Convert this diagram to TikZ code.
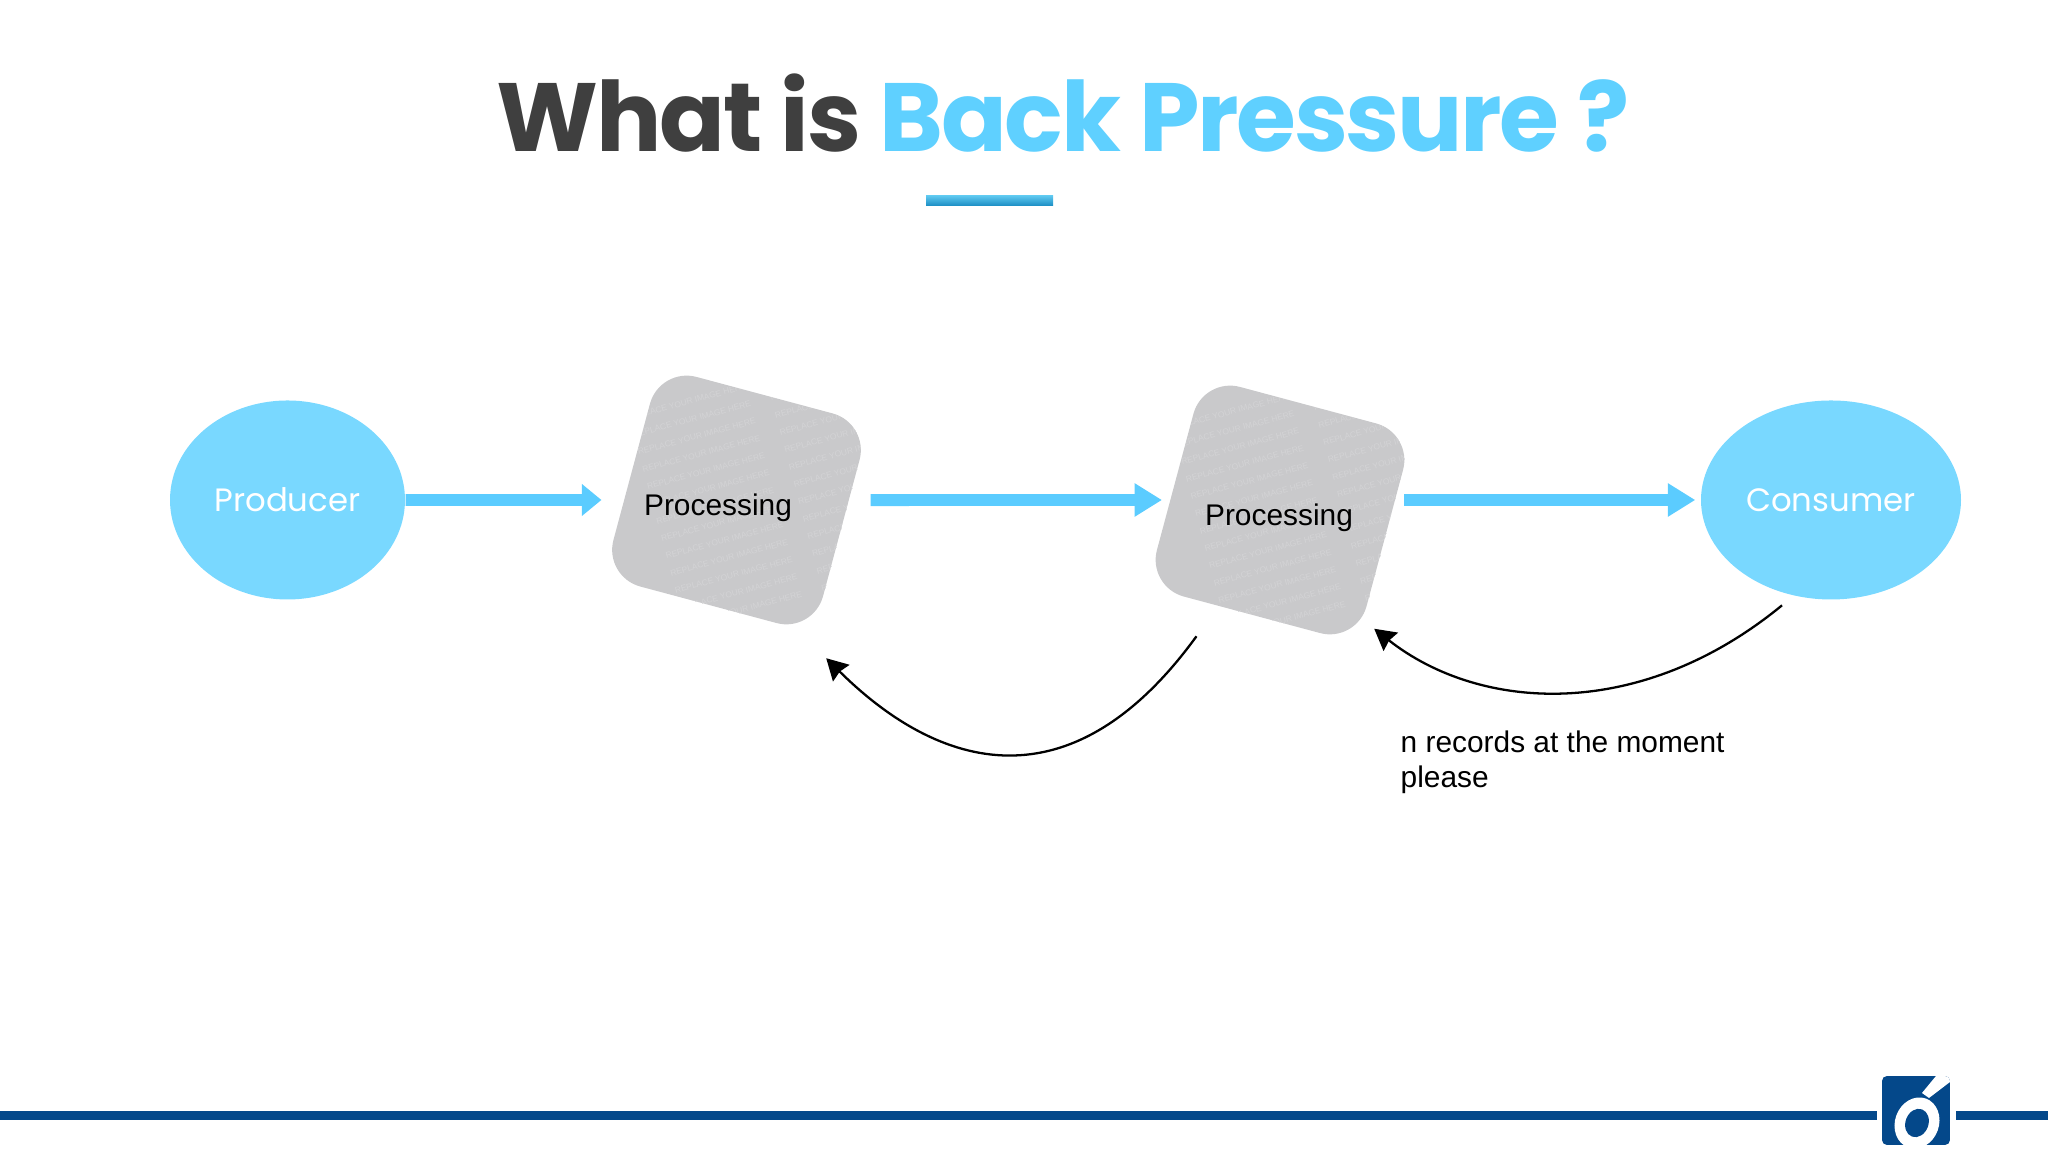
\documentclass[tikz,border=0pt]{standalone}
\usepackage{fontspec}
\setmainfont{Liberation Sans}
\newfontfamily\poppins{Poppins}
\usetikzlibrary{arrows.meta, shapes.geometric}
\definecolor{titlegrey}{HTML}{3F3F3F}
\definecolor{skyblue}{HTML}{5FD0FF}
\definecolor{bubbleblue}{HTML}{79D8FF}
\definecolor{flowblue}{HTML}{5BCCFF}
\definecolor{boxgrey}{HTML}{C9C9CB}
\definecolor{markgrey}{HTML}{D3D3D5}
\definecolor{footblue}{HTML}{04488A}
\definecolor{barlight}{HTML}{5CC6EE}
\definecolor{bardark}{HTML}{1A8CC2}
\tikzset{
    bubble/.style = {ellipse, fill = bubbleblue, text = white, inner sep = 0pt,
        minimum height = 1.99cm, font = \poppins\fontsize{9.2}{11}\selectfont},
    procbox/.style = {rectangle, fill = boxgrey, rounded corners = .38cm, rotate = -15,
        minimum size = 2.17cm},
    proclabel/.style = {font = \fontsize{8.5}{10}\selectfont, inner sep = 0pt},
    marktext/.style = {text = markgrey, font = \fontsize{2.4}{5.1}\selectfont, inner sep = 0pt,
        rotate = 15, align = left},
    flow/.style = {draw = flowblue, line width = 3.4pt,
        -{Triangle[length = 5.6pt, width = 8.8pt]}},
    flowlong/.style = {flow, -{Triangle[length = 7.8pt, width = 9pt]}},
    backflow/.style = {draw = black, line width = .65pt,
        -{Stealth[length = 6pt, width = 6.6pt, inset = .6pt]}},
    footline/.style = {fill = footblue}
}
\newcommand{\marksix}{REPLACE YOUR IMAGE HERE\\REPLACE YOUR IMAGE HERE\\REPLACE YOUR IMAGE HERE\\
    REPLACE YOUR IMAGE HERE\\REPLACE YOUR IMAGE HERE\\REPLACE YOUR IMAGE HERE}
\newcommand{\imagemark}[1]{
    \begin{scope}[shift = {(#1)}, rotate = -15]
        \clip[rounded corners = .38cm] (-1.085, -1.085) rectangle (1.085, 1.085);
        \begin{scope}[rotate = 30]
            \node[marktext] (#1left) at (-.22, 0) {\marksix\\\marksix\\REPLACE YOUR IMAGE HERE};
            \node[marktext] (#1right) at (1.20, 0) {\marksix\\\marksix\\REPLACE YOUR IMAGE HERE};
        \end{scope}
    \end{scope}
}

\begin{document}
\begin{tikzpicture}
    \useasboundingbox (0, 0) rectangle (20.48, 11.52);

    \node[anchor = base, inner sep = 0pt, font = \poppins\bfseries\fontsize{27.6}{32}\selectfont\addfontfeature{LetterSpace = -2.4}] (title)
        at (10.635, 10.00) {\textcolor{titlegrey}{What is} \textcolor{skyblue}{Back Pressure ?}};
    \shade[top color = barlight, bottom color = bardark] (9.26, 9.46) rectangle (10.53, 9.56);

    \node[bubble, minimum width = 2.35cm] (producer) at (2.875, 6.52) {Producer};
    \node[procbox] (proc1) at (7.365, 6.52) {};
    \node[procbox] (proc2) at (12.80, 6.42) {};
    \node[bubble, minimum width = 2.60cm] (consumer) at (18.31, 6.52) {Consumer};

    \imagemark{proc1}
    \imagemark{proc2}

    \node[proclabel] (label1) at (7.18, 6.44) {Processing};
    \node[proclabel] (label2) at (12.79, 6.34) {Processing};

    \draw[flow, shorten > = .22cm] (producer) -- (proc1);
    \draw[flowlong, shorten < = .21cm, shorten > = 1.18cm] (proc1) -- (proc2 |- proc1);
    \draw[flowlong, shorten < = 1.24cm, shorten > = .05cm] (proc2 |- consumer) -- (consumer);

    \draw[backflow] ([shift = {(-.21, -.30)}]proc2.252) .. controls (10.71, 3.43) and (9.39, 3.82) .. ([shift = {(.125, -.245)}]proc1.-45);
    \draw[backflow] ([shift = {(-.05, -.11)}]consumer.245) .. controls (16.40, 4.30) and (14.80, 4.40) .. ([shift = {(.10, -.11)}]proc2.-37);

    \node[anchor = north west, align = left, inner sep = 0pt, font = \fontsize{8.5}{9.96}\selectfont] (note)
        at (14.00, 4.22) {n records at the moment\\please};

    \fill[footline] (0, .32) rectangle (18.77, .41);
    \fill[footline] (19.56, .32) rectangle (20.48, .41);

    \begin{scope}
        \clip[rounded corners = .05cm] (18.82, .07) rectangle (19.50, .76);
        \fill[footblue] (18.82, .07) rectangle (19.50, .76);
        \fill[white, rotate around = {-20:(19.17, .29)}] (19.17, .29) ellipse (.22 and .26);
        \fill[footblue, rotate around = {-20:(19.17, .29)}] (19.17, .29) ellipse (.115 and .145);
        \fill[white] (19.22, .59) -- (19.36, .76) -- (19.50, .76) -- (19.50, .70) -- (19.29, .54) -- cycle;
    \end{scope}
\end{tikzpicture}
\end{document}
